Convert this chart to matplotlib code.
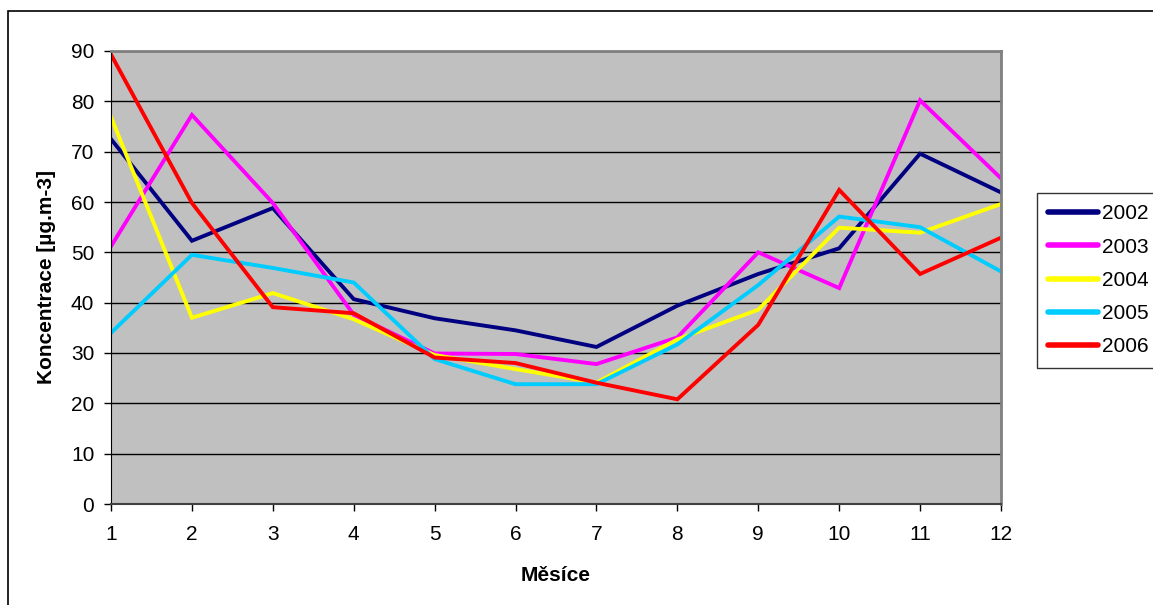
import matplotlib.pyplot as plt
from matplotlib.patches import Rectangle

plt.rcParams['font.family'] = ['Liberation Sans', 'DejaVu Sans']

mesice = [1, 2, 3, 4, 5, 6, 7, 8, 9, 10, 11, 12]
roky = ['2002', '2003', '2004', '2005', '2006']
barvy = ['#000080', '#FF00FF', '#FFFF00', '#00CCFF', '#FF0000']

k2002 = [72.5, 52.3, 58.8, 40.7, 36.9, 34.5, 31.2, 39.4, 45.7, 50.8, 69.6, 61.9]
k2003 = [51.2, 77.3, 59.8, 37.6, 29.9, 29.8, 27.8, 33.1, 50.0, 42.9, 80.2, 64.7]
k2004 = [76.9, 37.0, 41.9, 36.7, 29.6, 26.8, 24.1, 32.7, 38.6, 54.9, 53.9, 59.6]
k2005 = [34.0, 49.5, 46.9, 44.0, 28.8, 23.8, 23.8, 31.7, 43.5, 57.1, 55.0, 46.2]
k2006 = [89.3, 59.8, 39.1, 37.9, 29.1, 28.0, 24.1, 20.8, 35.6, 62.4, 45.7, 52.9]
data = [k2002, k2003, k2004, k2005, k2006]

fig = plt.figure(figsize=(11.53, 6.05), dpi=100)
ax = fig.add_axes([111/1153, 1-504/605, (1001-111)/1153, (504-51)/605])
ax.set_facecolor('#C0C0C0')

for rok, hodnoty, c in zip(roky, data, barvy):
    ax.plot(mesice, hodnoty, color=c, lw=2.8, label=rok, solid_joinstyle='miter')

ax.set_xlim(1, 12)
ax.set_ylim(0, 90)
ax.set_xticks(mesice)
ax.set_yticks(range(0, 91, 10))
ax.yaxis.grid(True, color='black', lw=1)
ax.set_axisbelow(True)
ax.tick_params(labelsize=15, direction='out', length=5, width=1, color='black')
ax.tick_params(axis='x', pad=10)
ax.tick_params(axis='y', pad=7)

for s in ['top', 'right']:
    ax.spines[s].set_color('#808080')
    ax.spines[s].set_linewidth(2)
ax.spines['left'].set_color('black')
ax.spines['bottom'].set_color('#404040')
ax.spines['bottom'].set_linewidth(1.5)

ax.set_xlabel('Měsíce', fontsize=15, fontweight='bold', labelpad=16)
ax.set_ylabel('Koncentrace [µg.m-3]', fontsize=15, fontweight='bold', labelpad=11)

leg = ax.legend(loc='upper left', bbox_to_anchor=(1037/1153, 1-193/605),
                bbox_transform=fig.transFigure, fontsize=15, frameon=True,
                fancybox=False, shadow=False, edgecolor='black',
                handlelength=2.4, handletextpad=0.15, labelspacing=0.68,
                borderpad=0.55, borderaxespad=0)
leg.get_frame().set_linewidth(1)
for h in leg.get_lines():
    h.set_linewidth(4)
    h.set_solid_capstyle('round')

fig.patches.append(Rectangle((8/1153, -0.05), 1.1, 1-11/605 + 0.05,
                             transform=fig.transFigure, fill=False,
                             edgecolor='black', lw=1.2))

fig.savefig('out.png', dpi=100)
